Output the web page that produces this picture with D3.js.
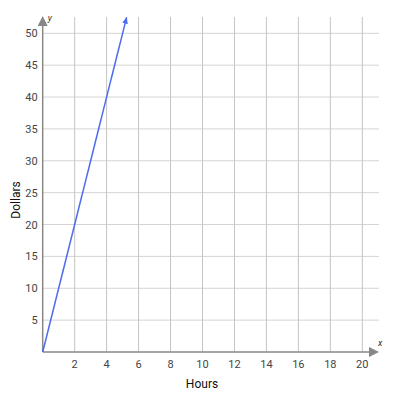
<!DOCTYPE html>
<html><head><meta charset="utf-8">
<script src="https://cdn.jsdelivr.net/npm/d3@7"></script>
<style>body{margin:0;background:#fff}svg{display:block;font-family:Roboto,sans-serif}</style>
</head><body><svg id="c" width="400" height="402"></svg>
<script>
const xTicks = [2,4,6,8,10,12,14,16,18,20];
const yTicks = [5,10,15,20,25,30,35,40,45,50];
const lineX = [0, 5.25];
const lineY = [0, 52.5];
const xLabel = "Hours", yLabel = "Dollars";

const svg = d3.select("#c");
const x = d3.scaleLinear().domain([0,20]).range([42.7,362.3]);
const y = d3.scaleLinear().domain([0,50]).range([352,33.3]);
const xEnd = 379, yTop = 16;

const g = svg.append("g");
// grid
g.selectAll(".hg").data(yTicks).join("line")
 .attr("x1",x(0)).attr("x2",xEnd).attr("y1",d=>y(d)).attr("y2",d=>y(d))
 .attr("stroke","#d4d4d4").attr("stroke-width",1);
g.selectAll(".vg").data(xTicks).join("line")
 .attr("y1",y(0)).attr("y2",yTop+1).attr("x1",d=>x(d)).attr("x2",d=>x(d))
 .attr("stroke","#c4c4c4").attr("stroke-width",1);

// axes
g.append("line").attr("x1",x(0)).attr("x2",xEnd-8).attr("y1",y(0)).attr("y2",y(0)).attr("stroke","#888").attr("stroke-width",1.5);
g.append("line").attr("x1",x(0)).attr("x2",x(0)).attr("y1",y(0)).attr("y2",yTop+8).attr("stroke","#888").attr("stroke-width",1.5);
g.append("path").attr("d",`M${xEnd},${y(0)} L${xEnd-10},${y(0)-5} L${xEnd-10},${y(0)+5}Z`).attr("fill","#888");
g.append("path").attr("d",`M${x(0)},${yTop} L${x(0)-5},${yTop+10} L${x(0)+5},${yTop+10}Z`).attr("fill","#888");

// tick labels
g.selectAll(".xt").data(xTicks).join("text")
 .attr("x",d=>x(d)).attr("y",y(0)+16).attr("text-anchor","middle")
 .attr("font-size",11).attr("fill","#444").text(d=>d);
g.selectAll(".yt").data(yTicks).join("text")
 .attr("x",x(0)-5).attr("y",d=>y(d)+4).attr("text-anchor","end")
 .attr("font-size",11).attr("fill","#444").text(d=>d);

g.append("text").attr("x",xEnd-1).attr("y",y(0)-6).attr("font-size",9).attr("font-style","italic").attr("fill","#333").text("x");
g.append("text").attr("x",x(0)+5).attr("y",yTop+5).attr("font-size",9).attr("font-style","italic").attr("fill","#333").text("y");

g.append("text").attr("x",202).attr("y",388).attr("text-anchor","middle").attr("font-size",12).attr("fill","#111").text(xLabel);
g.append("text").attr("transform","translate(20,200) rotate(-90)").attr("text-anchor","middle").attr("font-size",12).attr("fill","#111").text(yLabel);

// line with arrow
svg.append("defs").append("marker").attr("id","ar").attr("viewBox","0 0 10 10").attr("refX",9).attr("refY",5)
 .attr("markerWidth",7).attr("markerHeight",7).attr("orient","auto").attr("markerUnits","userSpaceOnUse")
 .append("path").attr("d","M0,1 L10,5 L0,9 Z").attr("fill","#4a6cf0");
const pts = lineX.map((v,i)=>[x(v), y(lineY[i])]);
g.append("path").attr("d",d3.line()(pts)).attr("stroke","#4a6cf0").attr("stroke-width",1.5).attr("fill","none").attr("marker-end","url(#ar)");
</script></body></html>
